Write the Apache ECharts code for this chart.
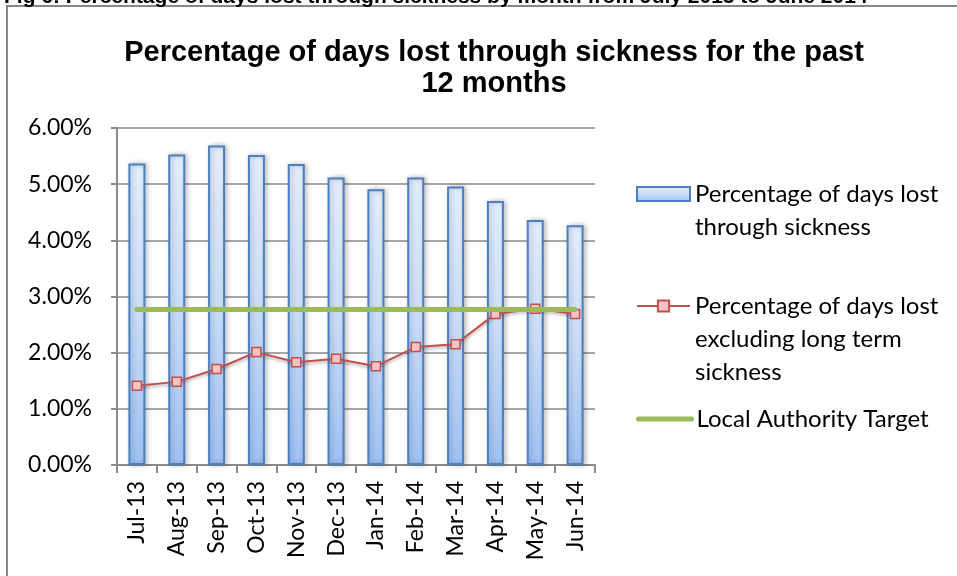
<!DOCTYPE html>
<html>
<head>
<meta charset="utf-8">
<script src="https://cdn.jsdelivr.net/npm/echarts@6/dist/echarts.min.js"></script>
<style>
    html, body { margin: 0; padding: 0; background: #fff; }
    #chart { width: 957px; height: 576px; }
</style>
</head>
<body>
<div id="chart"></div>
<script>
// 月份
const months = ['Jul-13', 'Aug-13', 'Sep-13', 'Oct-13', 'Nov-13', 'Dec-13',
                'Jan-14', 'Feb-14', 'Mar-14', 'Apr-14', 'May-14', 'Jun-14']
// 病假天数百分比
const daysLost = [5.37, 5.53, 5.69, 5.52, 5.36, 5.12, 4.91, 5.12, 4.96, 4.70, 4.36, 4.27]
// 不含长期病假
const daysLostExLongTerm = [1.41, 1.48, 1.71, 2.01, 1.83, 1.89, 1.76, 2.10, 2.15, 2.69, 2.78, 2.69]
// 目标
const target = [2.77, 2.77, 2.77, 2.77, 2.77, 2.77, 2.77, 2.77, 2.77, 2.77, 2.77, 2.77]
// y 轴刻度
const yTicks = [0, 1, 2, 3, 4, 5, 6]

const nameBars = 'Percentage of days lost through sickness'
const nameLine = 'Percentage of days lost excluding long term sickness'
const nameTarget = 'Local Authority Target'

// 图例文字 (前面的空行让图标对齐第一行)
const legendLabels = {
    [nameBars]: '\u00a0\nPercentage of days lost\nthrough sickness',
    [nameLine]: '\u00a0\n\u00a0\nPercentage of days lost\nexcluding long term\nsickness',
    [nameTarget]: 'Local Authority Target'
}

const font = 'Lato, "Open Sans", sans-serif'
const gridColor = '#8a8a8a'

const legendBase = (item, top) => ({
    data: [item],
    left: 636,
    top: top,
    padding: 0,
    itemWidth: 53,
    itemHeight: 14,
    formatter: n => legendLabels[n],
    textStyle: {
        fontFamily: font,
        fontSize: 24,
        color: '#000',
        lineHeight: 33
    }
})

const chart = echarts.init(document.getElementById('chart'))

const option = {
    animation: false,
    backgroundColor: '#fff',
    title: [{
        text: 'Percentage of days lost through sickness for the past\n12 months',
        left: 489,
        textAlign: 'center',
        top: 32,
        textStyle: {
            fontFamily: '"Liberation Sans", Arial, sans-serif',
            fontWeight: 'bold',
            fontSize: 29,
            lineHeight: 31,
            color: '#000'
        }
    }, {
        text: 'Fig 6: Percentage of days lost through sickness by month from July 2013 to June 2014',
        left: 4,
        top: -13,
        padding: 0,
        textStyle: {
            fontFamily: '"Liberation Sans", Arial, sans-serif',
            fontWeight: 'bold',
            fontSize: 21,
            color: '#000'
        }
    }],
    graphic: [{
        type: 'rect',
        shape: { x: 7, y: 6, width: 1000, height: 700 },
        style: { fill: 'none', stroke: '#878787', lineWidth: 2 },
        z: -1
    }],
    legend: [
        Object.assign(legendBase({ name: nameBars, icon: 'rect' }, 144.5)),
        legendBase(nameLine, 223.5),
        Object.assign(legendBase({ name: nameTarget, itemStyle: { opacity: 0 } }, 402.5), {
            lineStyle: { width: 5, cap: 'round' }
        })
    ],
    grid: {
        left: 117,
        right: 362,
        top: 128,
        bottom: 111
    },
    xAxis: {
        type: 'category',
        data: months,
        boundaryGap: true,
        axisLine: { lineStyle: { color: gridColor, width: 2 } },
        axisTick: { show: true, length: 8, lineStyle: { color: gridColor, width: 2 } },
        axisLabel: {
            rotate: 90,
            margin: 16,
            fontFamily: font,
            fontSize: 23,
            color: '#000'
        }
    },
    yAxis: {
        type: 'value',
        min: yTicks[0],
        max: yTicks[yTicks.length - 1],
        interval: 1,
        axisLine: { show: true, lineStyle: { color: gridColor, width: 2 } },
        axisTick: { show: true, length: 6, lineStyle: { color: gridColor, width: 2 } },
        splitLine: { lineStyle: { color: gridColor, width: 1.5 } },
        axisLabel: {
            margin: 25,
            fontFamily: font,
            fontSize: 23,
            color: '#000',
            formatter: v => v.toFixed(2) + '%'
        }
    },
    series: [{
        name: nameBars,
        type: 'bar',
        data: daysLost,
        barWidth: 17,
        itemStyle: {
            color: new echarts.graphic.LinearGradient(0, 0, 0, 1, [
                { offset: 0, color: '#e3edfc' },
                { offset: 0.5, color: '#c9dcf8' },
                { offset: 1, color: '#9fc1f3' }
            ]),
            borderColor: '#4a7fc1',
            borderWidth: 2,
            shadowBlur: 5,
            shadowOffsetX: 2,
            shadowColor: 'rgba(0, 0, 0, 0.25)'
        }
    }, {
        name: nameLine,
        type: 'line',
        data: daysLostExLongTerm,
        symbol: 'rect',
        symbolSize: 9,
        lineStyle: {
            color: '#c0504d',
            width: 2,
            shadowBlur: 3,
            shadowOffsetY: 2,
            shadowColor: 'rgba(0, 0, 0, 0.3)'
        },
        itemStyle: {
            color: '#f8c3c2',
            borderColor: '#c0504d',
            borderWidth: 1.5
        },
        z: 3
    }, {
        name: nameTarget,
        type: 'line',
        data: target,
        symbol: 'none',
        lineStyle: {
            color: '#9bbb59',
            width: 5,
            cap: 'round'
        },
        itemStyle: { color: '#9bbb59' },
        z: 4
    }]
}

chart.setOption(option)
</script>
</body>
</html>
